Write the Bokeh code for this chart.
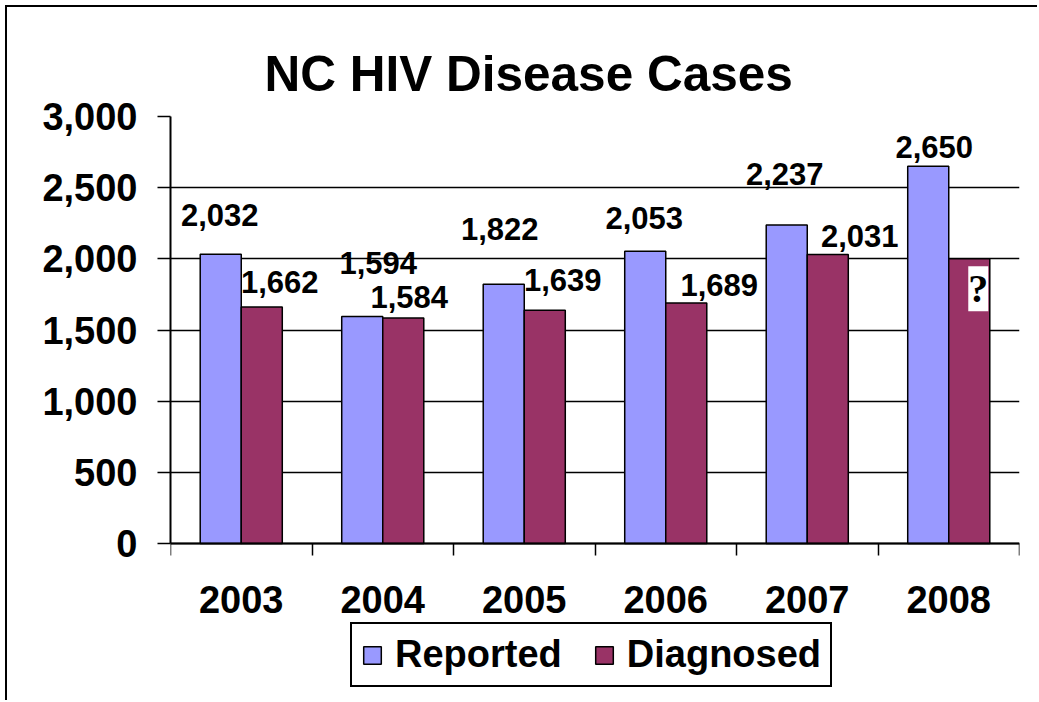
from bokeh.plotting import figure
from bokeh.models import (ColumnDataSource, Range1d, FixedTicker,
                          NumeralTickFormatter, LabelSet, Legend, LegendItem)
from bokeh.core.properties import value
from bokeh.transform import dodge
from bokeh.embed import file_html
from bokeh.resources import INLINE

# ---------------- data ----------------
years = ["2003", "2004", "2005", "2006", "2007", "2008"]
reported = [2032, 1594, 1822, 2053, 2237, 2650]
diagnosed = [1662, 1584, 1639, 1689, 2031, 2000]
reported_text = ["2,032", "1,594", "1,822", "2,053", "2,237", "2,650"]
diagnosed_text = ["1,662", "1,584", "1,639", "1,689", "2,031", "?"]
y_ticks = [0, 500, 1000, 1500, 2000, 2500, 3000]

# label nudges in screen pixels (style only)
rep_dx = [-1, 16, -4, -1, -2, 6]
rep_dy = [39, 54, 55, 33, 51, 19]
dia_dx = [18, 6, 18, 33, 32, 9]
dia_dy = [25, 21, 30, 18, 18, -30]

FONT = "Liberation Sans"
BAR_W = 0.29
REP_C = "#9999FF"
DIA_C = "#993366"

# layout (pixels): value area 427 px tall, plus room under it for year labels and legend
VALUE_PX = 427
EXTRA_PX = 157
Y_MAX = y_ticks[-1]
Y_MIN = -Y_MAX * EXTRA_PX / VALUE_PX

# category slots: each year occupies one unit on the x scale
slot = [i + 0.5 for i in range(len(years))]
bounds = list(range(len(years) + 1))

src = ColumnDataSource(dict(x=slot, year=years, reported=reported, diagnosed=diagnosed))

p = figure(frame_width=849, frame_height=VALUE_PX + EXTRA_PX, output_backend="svg",
           toolbar_location=None,
           x_range=Range1d(0, len(years)), y_range=Range1d(Y_MIN, Y_MAX),
           min_border_left=163, min_border_right=18, min_border_top=109, min_border_bottom=0)
# outer chart-area frame: only its left and top edges fall inside the page
p.styles = {"border-left": "2px solid black", "border-top": "2px solid black",
            "margin-left": "5px", "margin-top": "5px"}
p.outline_line_color = None
p.background_fill_color = "white"
p.border_fill_color = "white"

r1 = p.vbar(x=dodge("x", -BAR_W / 2), top="reported", width=BAR_W,
            source=src, fill_color=REP_C, line_color="black", line_width=1.5)
r2 = p.vbar(x=dodge("x", BAR_W / 2), top="diagnosed", width=BAR_W,
            source=src, fill_color=DIA_C, line_color="black", line_width=1.5)

# value labels
rep_src = ColumnDataSource(dict(x=slot, v=reported, t=reported_text, dx=rep_dx, dy=rep_dy))
known = [i for i, t in enumerate(diagnosed_text) if t != "?"]
unk = [i for i, t in enumerate(diagnosed_text) if t == "?"]
def sub(idx):
    return ColumnDataSource(dict(x=[slot[i] for i in idx], v=[diagnosed[i] for i in idx],
                                 t=[diagnosed_text[i] for i in idx], dx=[dia_dx[i] for i in idx],
                                 dy=[dia_dy[i] for i in idx]))
dia_src = sub(known)
q_src = sub(unk)

common = dict(text="t", y="v", x_offset="dx", y_offset="dy", text_align="center",
              text_baseline="middle", text_font_style="bold", text_color="black")
p.add_layout(LabelSet(x=dodge("x", -BAR_W / 2), source=rep_src, text_font=value(FONT),
                      text_font_size="31px", **common))
p.add_layout(LabelSet(x=dodge("x", BAR_W / 2), source=dia_src, text_font=value(FONT),
                      text_font_size="31px", **common))
p.add_layout(LabelSet(x=dodge("x", BAR_W / 2), source=q_src,
                      text_font=value("Liberation Serif"), text_font_size="40px",
                      background_fill_color="white", text_line_height=1.1, **common))

# y axis (line only over the value area)
yt = FixedTicker(ticks=y_ticks)
ya = p.yaxis[0]
ya.ticker = yt
ya.bounds = (0, Y_MAX)
ya.formatter = NumeralTickFormatter(format="0,0")
ya.major_tick_out = 13
ya.major_tick_in = 0
ya.minor_tick_line_color = None
ya.axis_line_width = 2
ya.major_tick_line_width = 1.5
ya.major_label_text_font = FONT
ya.major_label_text_font_size = "38px"
ya.major_label_text_font_style = "bold"
ya.major_label_text_color = "black"
ya.major_label_standoff = 20

p.ygrid.ticker = yt
p.ygrid.grid_line_color = "black"
p.ygrid.grid_line_width = 1.5
p.xgrid.grid_line_color = None

# x axis at value 0: labels at slot centres, ticks at slot boundaries
xa = p.xaxis[0]
xa.fixed_location = 0
xa.ticker = FixedTicker(ticks=slot, minor_ticks=bounds)
xa.major_label_overrides = {s: y for s, y in zip(slot, years)}
xa.major_tick_out = 0
xa.major_tick_in = 0
xa.major_tick_line_color = None
xa.minor_tick_out = 12
xa.minor_tick_in = 0
xa.minor_tick_line_width = 1.5
xa.minor_tick_line_color = "black"
xa.axis_line_width = 2
xa.major_label_text_font = FONT
xa.major_label_text_font_size = "38px"
xa.major_label_text_font_style = "bold"
xa.major_label_text_color = "black"
xa.major_label_standoff = 30

# title
p.title.text = "NC HIV Disease Cases"
p.title.text_font = FONT
p.title.text_font_size = "49.5px"
p.title.text_font_style = "bold"
p.title.text_color = "black"
p.title.align = "left"
p.title.offset = 94
p.title.standoff = 31

# legend, under the year labels (offsets in screen px from the frame's bottom-left)
legend = Legend(items=[LegendItem(label="Reported", renderers=[r1]),
                       LegendItem(label="Diagnosed", renderers=[r2])],
                orientation="horizontal", location=(180, 13),
                border_line_color="black", border_line_width=2, border_line_alpha=1,
                background_fill_color="white", background_fill_alpha=1,
                label_text_font=FONT, label_text_font_size="38px", label_text_font_style="bold",
                label_text_color="black", glyph_width=22, glyph_height=22,
                label_standoff=12, spacing=31, padding=9, margin=0)
p.add_layout(legend, "center")

open("out.html", "w").write(file_html(p, INLINE))
